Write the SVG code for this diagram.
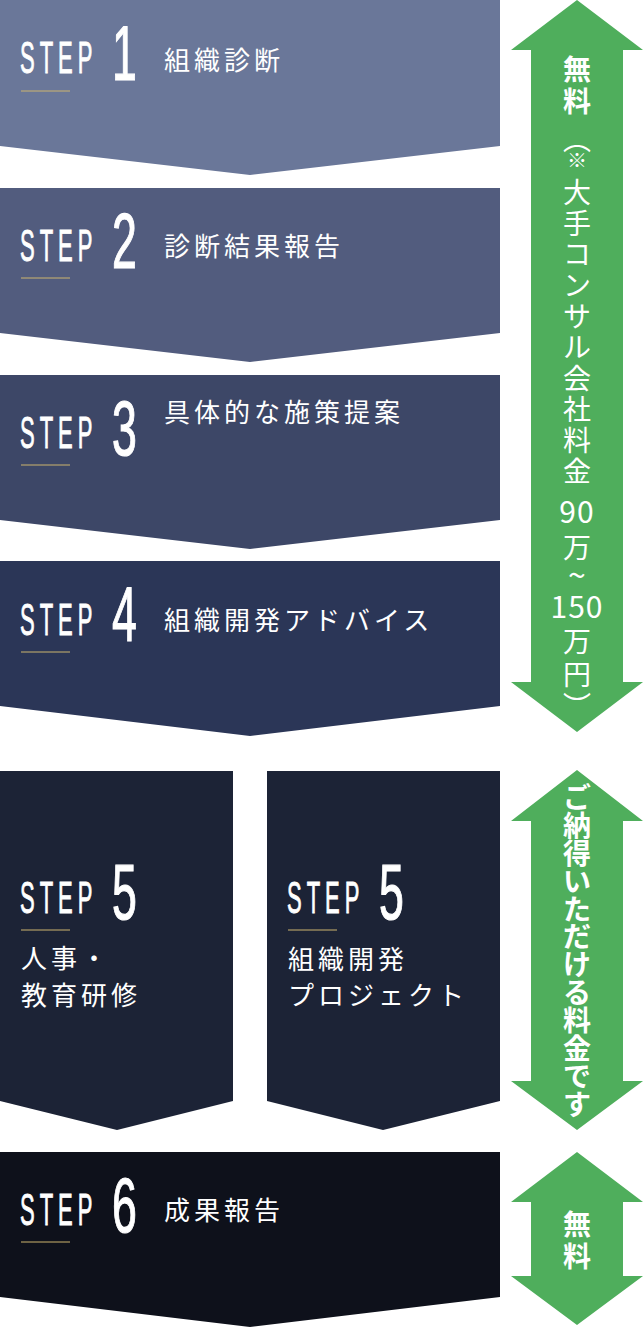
<svg xmlns="http://www.w3.org/2000/svg" width="643" height="1327" viewBox="0 0 643 1327">
<style>
.step{font-family:"Liberation Sans",sans-serif;font-size:44px;letter-spacing:10px;fill:#fff;stroke:#fff;stroke-width:0.9}
.num{font-family:"Liberation Sans",sans-serif;font-size:77px;fill:#fff;stroke:#fff;stroke-width:1.2}
.jp{font-family:"Noto Sans CJK JP",sans-serif;font-size:26px;letter-spacing:4px;fill:#fff}
.ul{stroke:#cdb56f;stroke-width:1}
.grn{fill:#4fae5c}
.vt{font-family:"Noto Sans CJK JP",sans-serif;font-size:28px;fill:#fff;text-anchor:middle}
.vb{font-weight:700}
</style>
<rect width="643" height="1327" fill="#fff"/>

<g id="step1">
<polygon points="0,0 500,0 500,146 250,175 0,146" fill="#6a7799"/>
<text class="step" transform="translate(20,73) scale(0.5,1)">STEP</text>
<text class="num" transform="translate(112,80) scale(0.58,1)">1</text>
<line class="ul" x1="21" y1="91" x2="70" y2="91"/>
<text class="jp" x="164" y="70">組織診断</text>
</g>

<g id="step2">
<polygon points="0,188 500,188 500,333 250,362 0,333" fill="#525c7e"/>
<text class="step" transform="translate(20,261) scale(0.5,1)">STEP</text>
<text class="num" transform="translate(112,268) scale(0.58,1)">2</text>
<line class="ul" x1="21" y1="278" x2="70" y2="278"/>
<text class="jp" x="164" y="256">診断結果報告</text>
</g>

<g id="step3">
<polygon points="0,375 500,375 500,520 250,549 0,520" fill="#3d4767"/>
<text class="step" transform="translate(20,448) scale(0.5,1)">STEP</text>
<text class="num" transform="translate(112,455) scale(0.58,1)">3</text>
<line class="ul" x1="21" y1="465" x2="70" y2="465"/>
<text class="jp" x="164" y="422">具体的な施策提案</text>
</g>

<g id="step4">
<polygon points="0,561 500,561 500,706 250,736 0,706" fill="#2b3657"/>
<text class="step" transform="translate(20,635) scale(0.5,1)">STEP</text>
<text class="num" transform="translate(112,641) scale(0.58,1)">4</text>
<line class="ul" x1="21" y1="652" x2="70" y2="652"/>
<text class="jp" x="164" y="630">組織開発アドバイス</text>
</g>

<g id="step5a">
<polygon points="0,771 233,771 233,1101 117,1130 0,1101" fill="#1c2336"/>
<text class="step" transform="translate(20,913) scale(0.5,1)">STEP</text>
<text class="num" transform="translate(112,919) scale(0.58,1)">5</text>
<line class="ul" x1="21" y1="930" x2="70" y2="930"/>
<text class="jp" x="21" y="968">人事・</text>
<text class="jp" x="21" y="1005">教育研修</text>
</g>

<g id="step5b">
<polygon points="267,771 500,771 500,1101 383,1130 267,1101" fill="#1c2336"/>
<text class="step" transform="translate(287,913) scale(0.5,1)">STEP</text>
<text class="num" transform="translate(379,919) scale(0.58,1)">5</text>
<line class="ul" x1="288" y1="930" x2="337" y2="930"/>
<text class="jp" x="288" y="969">組織開発</text>
<text class="jp" x="288" y="1005">プロジェクト</text>
</g>

<g id="step6">
<polygon points="0,1152 500,1152 500,1297 250,1327 0,1297" fill="#0e111b"/>
<text class="step" transform="translate(20,1225) scale(0.5,1)">STEP</text>
<text class="num" transform="translate(112,1232) scale(0.58,1)">6</text>
<line class="ul" x1="21" y1="1242" x2="70" y2="1242"/>
<text class="jp" x="164" y="1220">成果報告</text>
</g>

<g id="connectors">
<g id="price1">
<polygon class="grn" points="577,0 643,50 623,50 623,682 643,682 577,732 511,682 531,682 531,50 511,50"/>
<text class="vt vb"><tspan x="577" y="80">無</tspan><tspan x="577" y="112">料</tspan></text>
<text class="vt"><tspan x="577" y="150">︵</tspan><tspan x="577" y="168" font-size="20">※</tspan><tspan x="577" y="203">大</tspan><tspan x="577" y="234">手</tspan><tspan x="577" y="265">コ</tspan><tspan x="577" y="296">ン</tspan><tspan x="577" y="327">サ</tspan><tspan x="577" y="358">ル</tspan><tspan x="577" y="389">会</tspan><tspan x="577" y="420">社</tspan><tspan x="577" y="451">料</tspan><tspan x="577" y="482">金</tspan><tspan x="577" y="523" font-size="30" letter-spacing="1">90</tspan><tspan x="577" y="558">万</tspan><tspan x="577" y="587" font-size="32">~</tspan><tspan x="577" y="618" font-size="30" letter-spacing="1">150</tspan><tspan x="577" y="652">万</tspan><tspan x="577" y="685">円</tspan><tspan x="577" y="717">︶</tspan></text>
</g>
<g id="price2">
<polygon class="grn" points="577,770 643,821 623,821 623,1081 643,1081 577,1130 511,1081 531,1081 531,821 511,821"/>
<text class="vt vb" font-size="27"><tspan x="577" y="808">ご</tspan><tspan x="577" y="836">納</tspan><tspan x="577" y="864">得</tspan><tspan x="577" y="892">い</tspan><tspan x="577" y="920">た</tspan><tspan x="577" y="947">だ</tspan><tspan x="577" y="975">け</tspan><tspan x="577" y="1003">る</tspan><tspan x="577" y="1031">料</tspan><tspan x="577" y="1059">金</tspan><tspan x="577" y="1087">で</tspan><tspan x="577" y="1115">す</tspan></text>
</g>
<g id="price3">
<polygon class="grn" points="577,1152 643,1202 623,1202 623,1276 643,1276 577,1325 511,1276 531,1276 531,1202 511,1202"/>
<text class="vt vb"><tspan x="577" y="1235">無</tspan><tspan x="577" y="1267">料</tspan></text>
</g>
</g>
</svg>
